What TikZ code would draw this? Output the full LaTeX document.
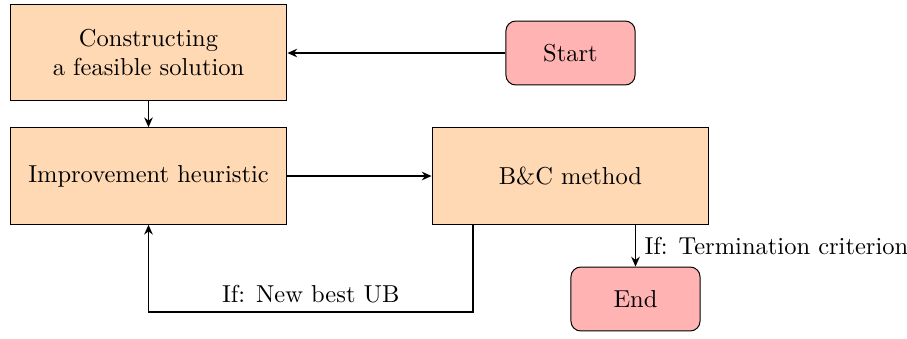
\documentclass[tikz,border=0pt]{standalone}
\usetikzlibrary{arrows.meta,positioning}
\definecolor{boxfill}{RGB}{255,217,179}
\definecolor{termfill}{RGB}{255,179,179}
\begin{document}
\begin{tikzpicture}[x=0.4082pt,y=-0.4082pt,
  procbox/.style={draw, fill=boxfill, minimum width=113pt, minimum height=39.4pt, align=center, inner sep=2pt},
  termbox/.style={draw, fill=termfill, rounded corners=4pt, minimum width=52.7pt, minimum height=26.1pt},
  arr/.style={-{Stealth[length=4pt,width=3.5pt]}, thick}]
\useasboundingbox (0,0) rectangle (907,338);
\node[procbox] (con) at (148.5,52.5) {Constructing\\a feasible solution};
\node[termbox] (start) at (570.5,53) {Start};
\node[procbox] (imp) at (148.5,176) {Improvement heuristic};
\node[procbox] (bc) at (570.5,176) {B\&C method};
\node[termbox] (end) at (635.5,299) {End};
\draw[arr] (start) -- (start -| con.east);
\draw[arr] (con) -- (imp);
\draw[arr] (imp) -- (bc);
\draw[arr] (bc.south -| end.north) -- node[right] {If: Termination criterion} (end.north);
\coordinate (fb) at (473,224);
\coordinate (fbc) at (473,312);
\draw[arr] (fb) -- (fbc) -- node[above] {If: New best UB} (fbc -| imp.south) -- (imp.south);
\end{tikzpicture}
\end{document}
